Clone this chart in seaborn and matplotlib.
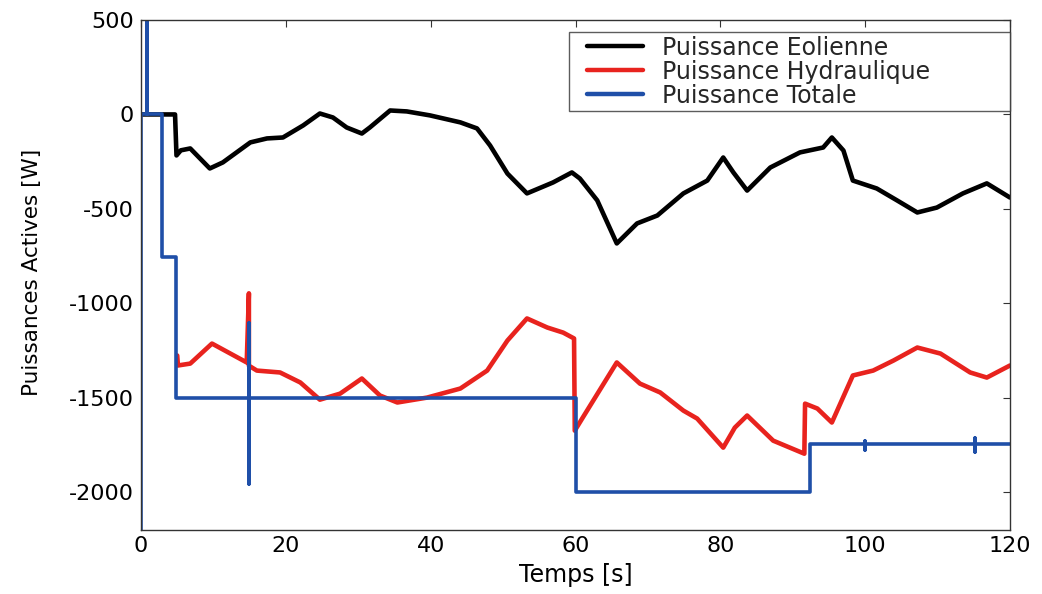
import numpy as np
import pandas as pd
import matplotlib
matplotlib.use("Agg")
import matplotlib.pyplot as plt
from matplotlib.lines import Line2D
from matplotlib.legend_handler import HandlerLine2D
import seaborn as sns

# ---------------- data ----------------
black_t = [0, 4.7, 4.9, 5.5, 6.8, 9.5, 11.3, 15.1, 17.4, 19.6, 22.4, 24.7, 26.5, 28.4, 30.5,
           31.6, 34.4, 36.7, 39.9, 44.1, 46.4, 48.2, 50.6, 53.3, 56.9, 59.5, 60.6, 63.0, 65.7,
           68.5, 71.3, 74.9, 78.2, 80.4, 81.8, 83.7, 86.9, 91.0, 94.2, 95.4, 97.0, 98.3, 101.6,
           104.4, 107.2, 109.9, 113.5, 116.8, 120]
black_v = [0, 0, -217, -190, -180, -286, -254, -148, -127, -122, -58, 5, -16, -69, -101,
           -69, 21, 16, -5, -42, -74, -164, -313, -418, -360, -307, -339, -455, -683,
           -577, -535, -418, -350, -228, -307, -403, -281, -201, -175, -122, -191, -350, -392,
           -455, -519, -493, -418, -365, -440]

red_t = [5.0, 5.1, 6.8, 9.8, 14.6, 14.9, 14.9, 16.0, 19.2, 22.0, 24.7, 27.5, 30.5, 33.0, 35.4,
         39.5, 44.1, 47.8, 50.6, 53.3, 56.1, 58.3, 59.8, 59.9, 61.0, 65.7, 68.9, 71.7, 74.9,
         76.8, 80.4, 82.0, 83.7, 87.3, 91.6, 91.7, 93.4, 95.4, 98.3, 101.1, 103.9, 107.2, 110.4,
         114.5, 116.8, 120.0]
red_v = [-1276, -1329, -1319, -1213, -1313, -947, -1330, -1356, -1366, -1419, -1510, -1478,
         -1398, -1488, -1525, -1499, -1451, -1356, -1197, -1080, -1128, -1155, -1186, -1674,
         -1605, -1313, -1425, -1472, -1568, -1610, -1764, -1658, -1594, -1727, -1796, -1531,
         -1557, -1631, -1382, -1356, -1303, -1234, -1266, -1366, -1393, -1329]

blue_t = [0, 0, 0.8, 0.8, 0.8, 2.9, 2.9, 4.8, 4.8, 14.9, 14.9, 14.9, 14.9, 60.0, 60.0,
          92.4, 92.4, 100.0, 100.0, 100.0, 100.0, 115.2, 115.2, 115.2, 115.2, 120.0]
blue_v = [-2200, 0, 0, 520, 0, 0, -757, -757, -1500, -1500, -1106, -1955, -1500, -1500, -2000,
          -2000, -1746, -1746, -1730, -1775, -1746, -1746, -1712, -1785, -1746, -1746]

labels = ["Puissance Eolienne", "Puissance Hydraulique", "Puissance Totale"]
colors = ["#000000", "#e8231e", "#1f4fa8"]
x_ticks = [0, 20, 40, 60, 80, 100, 120]
y_ticks = [-2000, -1500, -1000, -500, 0, 500]

# ---------------- style ----------------
sns.set_theme(style="white")
plt.rcParams["font.family"] = ["DejaVu Sans"]
plt.rcParams["axes.unicode_minus"] = False
plt.rcParams["xtick.direction"] = "in"
plt.rcParams["ytick.direction"] = "in"

W, H = 1042, 594
fig = plt.figure(figsize=(W / 100, H / 100), dpi=100)
ax_l, ax_r, ax_t, ax_b = 141, 1010, 20, 530
ax = fig.add_axes([ax_l / W, 1 - ax_b / H, (ax_r - ax_l) / W, (ax_b - ax_t) / H])

series = [(black_t, black_v), (red_t, red_v), (blue_t, blue_v)]
widths = [3.3, 3.3, 2.6]
for (t, v), lab, col, lw in zip(series, labels, colors, widths):
    df = pd.DataFrame({"t": t, "v": v})
    sns.lineplot(data=df, x="t", y="v", ax=ax, sort=False, estimator=None,
                 color=col, linewidth=lw, label=lab)

ax.set_xlim(0, 120)
ax.set_ylim(-2200, 500)
ax.set_xticks(x_ticks)
ax.set_yticks(y_ticks)
ax.tick_params(axis="both", which="both", direction="in", length=5, width=0.8,
               colors="#333333", labelcolor="black", labelsize=16,
               top=True, right=True)
ax.tick_params(axis="x", pad=4)
ax.tick_params(axis="y", pad=5)
for s in ax.spines.values():
    s.set_color("#333333")
    s.set_linewidth(1.0)

ax.set_xlabel("Temps [s]", fontsize=17, color="black")
ax.set_ylabel("Puissances Actives [W]", fontsize=15.5, color="black")
ax.xaxis.set_label_coords(0.5, -0.064)
ax.yaxis.set_label_coords(-0.114, 0.505)

# legend box spanning x 569..1010 px, top at y=32 px
fs = 17
fpx = fs * 100 / 72
bx0 = (569 - ax_l) / (ax_r - ax_l)
bw = (1010 - 569) / (ax_r - ax_l)
by = 1 - (32 - ax_t) / (ax_b - ax_t)
bpad = 0.15
hl = (643 - (569 + bpad * fpx)) / fpx
xpad = (587 - (569 + bpad * fpx)) / fpx
leg = ax.legend(loc="upper left", bbox_to_anchor=(bx0, by, bw, 0), mode="expand",
                borderaxespad=0, fontsize=fs, frameon=True, fancybox=False,
                handlelength=hl, handletextpad=0.8, labelspacing=0.0,
                borderpad=bpad, handler_map={Line2D: HandlerLine2D(xpad=xpad)})
leg.get_frame().set_edgecolor("#333333")
leg.get_frame().set_linewidth(1.0)
for h in leg.get_lines():
    h.set_linewidth(3.2)

fig.savefig("out.png", dpi=100)
